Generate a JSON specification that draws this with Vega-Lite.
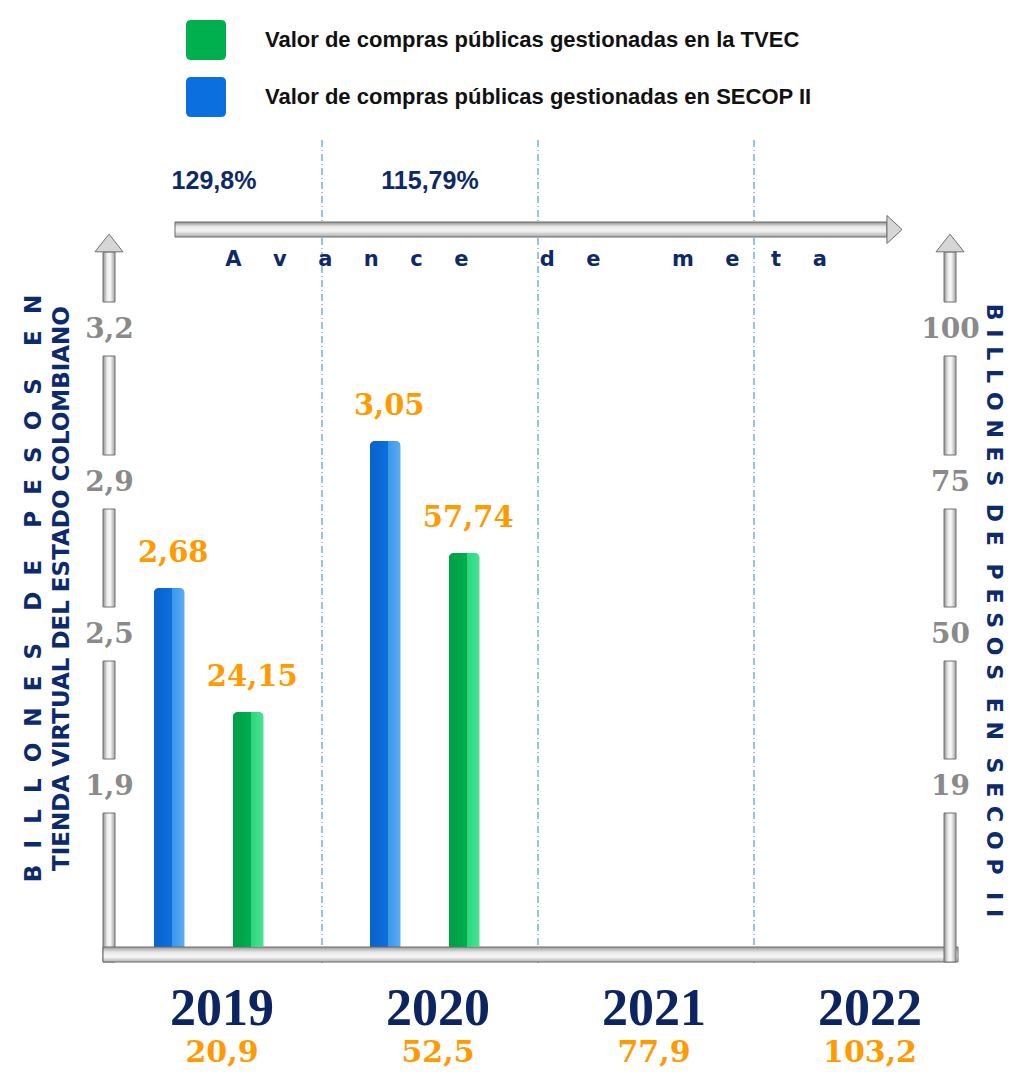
{
  "$schema": "https://vega.github.io/schema/vega-lite/v6.json",
  "width": 864,
  "height": 823,
  "autosize": {"type": "none"},
  "padding": {"left": 106, "top": 140, "right": 59, "bottom": 122},
  "background": "white",
  "config": {
    "locale": {"number": {"decimal": ",", "thousands": ".", "grouping": [3], "currency": ["$", ""]}},
    "view": {"stroke": null},
    "axisX": {"domain": false, "ticks": false, "tickSize": 0, "grid": false, "labelFont": "Liberation Serif", "labelFontSize": 52, "labelFontWeight": "bold", "labelColor": "#0c2461", "labelPadding": 61, "labelBaseline": "alphabetic", "labelOffset": 8, "labelAngle": 0}
  },
  "datasets": {
    "bars": [
      {"year": 2019, "sistema": "SECOP II", "serie": "Valor de compras públicas gestionadas en SECOP II", "valor": 2.68},
      {"year": 2020, "sistema": "SECOP II", "serie": "Valor de compras públicas gestionadas en SECOP II", "valor": 3.05},
      {"year": 2019, "sistema": "TVEC", "serie": "Valor de compras públicas gestionadas en la TVEC", "valor": 24.15},
      {"year": 2020, "sistema": "TVEC", "serie": "Valor de compras públicas gestionadas en la TVEC", "valor": 57.74}
    ],
    "meta": [
      {"year": 2019, "meta": 20.9, "avance": 1.298},
      {"year": 2020, "meta": 52.5, "avance": 1.1579},
      {"year": 2021, "meta": 77.9},
      {"year": 2022, "meta": 103.2}
    ],
    "segL": [{"lo": 0, "hi": 1.9}, {"lo": 1.9, "hi": 2.5}, {"lo": 2.5, "hi": 2.9}, {"lo": 2.9, "hi": 3.2}],
    "segR": [{"lo": 0, "hi": 19}, {"lo": 19, "hi": 50}, {"lo": 50, "hi": 75}, {"lo": 75, "hi": 100}]
  },
  "layer": [
    {
      "data": {"name": "meta"},
      "transform": [{"filter": "datum.year > 2019"}],
      "mark": {"type": "rule", "color": "#2f86d6", "strokeWidth": 1, "strokeDash": [7, 3, 1, 3]},
      "encoding": {
        "x": {"field": "year", "type": "ordinal", "bandPosition": 0, "title": null, "scale": {"type": "band", "domain": [2019, 2020, 2021, 2022], "paddingInner": 0, "paddingOuter": 0}}
      }
    },
    {
      "layer": [
        {
          "data": {"name": "bars"},
          "transform": [{"filter": "datum.sistema == 'SECOP II'"}],
          "mark": {"type": "bar", "cornerRadiusTopLeft": 5, "cornerRadiusTopRight": 5},
          "encoding": {
            "x": {"field": "year", "type": "ordinal", "title": null},
            "xOffset": {"field": "serie", "type": "nominal", "scale": {"type": "band", "domain": ["Valor de compras públicas gestionadas en SECOP II", "Valor de compras públicas gestionadas en la TVEC"], "paddingInner": 0.61, "paddingOuter": 0.672, "align": 0.45}},
            "y": {"field": "valor", "type": "quantitative", "scale": {"domain": [0, 1.9, 2.5, 2.68, 2.9, 3.05, 3.2], "range": [807, 646, 494, 448, 342, 301, 189], "nice": false},
              "axis": {"orient": "left", "offset": -3, "values": [1.9, 2.5, 2.9, 3.2], "format": ".1f", "domain": false, "ticks": false, "tickSize": 0, "grid": false, "labelAlign": "center", "labelBaseline": "middle", "labelPadding": 0, "labelFont": "DejaVu Serif", "labelFontSize": 28, "labelFontWeight": "bold", "labelColor": "#8a8a8a", "labelOverlap": false,
                "title": ["B\u2002\u2009I\u2002\u2009L\u2002\u2009L\u2002\u2009O\u2002\u2009N\u2002\u2009E\u2002\u2009S\u2002\u2009\u2002\u2009D\u2002\u2009E\u2002\u2009\u2002\u2009P\u2002\u2009E\u2002\u2009S\u2002\u2009O\u2002\u2009S\u2002\u2009\u2002\u2009E\u2002\u2009N", "TIENDA VIRTUAL DEL ESTADO COLOMBIANO"],
                "titleFont": "DejaVu Sans", "titleFontSize": 23, "titleFontWeight": "bold", "titleColor": "#0d2a6b", "titleAngle": -90, "titleAlign": "center", "titleBaseline": "alphabetic", "titleX": -69, "titleY": 448, "titleLineHeight": 28, "titleLimit": 1000}},
            "color": {"field": "serie", "type": "nominal", "scale": {"domain": ["Valor de compras públicas gestionadas en la TVEC", "Valor de compras públicas gestionadas en SECOP II"], "range": ["#00b04f", "#0b6fe0"]},
              "legend": {"orient": "none", "legendX": 80, "legendY": -120, "title": null, "direction": "vertical", "symbolType": "M-1,-0.75Q-1,-1,-0.75,-1L0.75,-1Q1,-1,1,-0.75L1,0.75Q1,1,0.75,1L-0.75,1Q-1,1,-1,0.75Z", "symbolSize": 1600, "symbolStrokeWidth": 0, "symbolOpacity": 1, "labelFont": "Liberation Sans", "labelFontSize": 22, "labelFontWeight": "bold", "labelColor": "#111111", "labelLimit": 800, "labelOffset": 39, "rowPadding": 17, "padding": 0}}
          }
        },
        {
          "data": {"name": "bars"},
          "transform": [{"filter": "datum.sistema == 'SECOP II'"}],
          "mark": {"type": "bar", "cornerRadiusTopLeft": 5, "cornerRadiusTopRight": 5, "fill": {"gradient": "linear", "x1": 0, "y1": 0, "x2": 1, "y2": 0, "stops": [{"offset": 0, "color": "rgba(0,30,90,0.15)"}, {"offset": 0.55, "color": "rgba(0,0,0,0)"}, {"offset": 0.6, "color": "rgba(120,200,255,0.45)"}, {"offset": 1, "color": "rgba(140,215,255,0.6)"}]}},
          "encoding": {
            "x": {"field": "year", "type": "ordinal", "title": null},
            "xOffset": {"field": "serie", "type": "nominal"},
            "y": {"field": "valor", "type": "quantitative", "scale": {"domain": [0, 1.9, 2.5, 2.68, 2.9, 3.05, 3.2], "range": [807, 646, 494, 448, 342, 301, 189], "nice": false}}
          }
        },
        {
          "data": {"name": "bars"},
          "transform": [{"filter": "datum.sistema == 'SECOP II'"}],
          "mark": {"type": "text", "baseline": "bottom", "dy": -20, "dx": 4, "font": "DejaVu Serif", "fontSize": 29, "fontWeight": "bold", "color": "#ff9a00"},
          "encoding": {
            "x": {"field": "year", "type": "ordinal", "title": null},
            "xOffset": {"field": "serie", "type": "nominal"},
            "y": {"field": "valor", "type": "quantitative", "scale": {"domain": [0, 1.9, 2.5, 2.68, 2.9, 3.05, 3.2], "range": [807, 646, 494, 448, 342, 301, 189], "nice": false}},
            "text": {"field": "valor", "type": "quantitative", "format": ".2f"}
          }
        },
        {
          "data": {"name": "segL"},
          "mark": {"type": "rect", "fill": {"gradient": "linear", "x1": 0, "y1": 0, "x2": 1, "y2": 0, "stops": [{"offset": 0, "color": "#8f8f8f"}, {"offset": 0.35, "color": "#eeeeee"}, {"offset": 0.6, "color": "#f7f7f7"}, {"offset": 1, "color": "#a0a0a0"}]}, "stroke": "#707070", "strokeWidth": 1, "xOffset": -3, "x2Offset": 9, "yOffset": {"expr": "datum.lo == 0 ? 15 : -27"}, "y2Offset": 27},
          "encoding": {
            "x": {"datum": 2019, "type": "ordinal", "bandPosition": 0, "title": null},
            "x2": {"datum": 2019, "bandPosition": 0},
            "y": {"field": "lo", "type": "quantitative", "scale": {"domain": [0, 1.9, 2.5, 2.68, 2.9, 3.05, 3.2], "range": [807, 646, 494, 448, 342, 301, 189], "nice": false}},
            "y2": {"field": "hi"}
          }
        },
        {
          "data": {"name": "segL"},
          "transform": [{"aggregate": [{"op": "max", "field": "hi", "as": "top"}]}],
          "mark": {"type": "rect", "fill": {"gradient": "linear", "x1": 0, "y1": 0, "x2": 1, "y2": 0, "stops": [{"offset": 0, "color": "#8f8f8f"}, {"offset": 0.35, "color": "#eeeeee"}, {"offset": 0.6, "color": "#f7f7f7"}, {"offset": 1, "color": "#a0a0a0"}]}, "stroke": "#707070", "strokeWidth": 1, "xOffset": -3, "x2Offset": 9, "yOffset": -27, "y2Offset": -77},
          "encoding": {
            "x": {"datum": 2019, "type": "ordinal", "bandPosition": 0, "title": null},
            "x2": {"datum": 2019, "bandPosition": 0},
            "y": {"field": "top", "type": "quantitative", "scale": {"domain": [0, 1.9, 2.5, 2.68, 2.9, 3.05, 3.2], "range": [807, 646, 494, 448, 342, 301, 189], "nice": false}},
            "y2": {"field": "top"}
          }
        },
        {
          "data": {"name": "segL"},
          "transform": [{"aggregate": [{"op": "max", "field": "hi", "as": "top"}]}],
          "mark": {"type": "point", "shape": "M-1,0.63L0,-0.63L1,0.63Z", "size": 784, "filled": true, "fill": "#d6d6d6", "stroke": "#707070", "strokeWidth": 1, "opacity": 1, "xOffset": 3, "yOffset": -86},
          "encoding": {
            "x": {"datum": 2019, "type": "ordinal", "bandPosition": 0, "title": null},
            "y": {"field": "top", "type": "quantitative", "scale": {"domain": [0, 1.9, 2.5, 2.68, 2.9, 3.05, 3.2], "range": [807, 646, 494, 448, 342, 301, 189], "nice": false}}
          }
        },
        {
          "data": {"name": "segL"},
          "transform": [{"aggregate": [{"op": "min", "field": "lo", "as": "base"}]}],
          "mark": {"type": "rect", "fill": {"gradient": "linear", "x1": 0, "y1": 0, "x2": 0, "y2": 1, "stops": [{"offset": 0, "color": "#9a9a9a"}, {"offset": 0.35, "color": "#e8e8e8"}, {"offset": 0.65, "color": "#f7f7f7"}, {"offset": 1, "color": "#b0b0b0"}]}, "stroke": "#6b6b6b", "strokeWidth": 1, "xOffset": -3, "x2Offset": -12, "yOffset": 0, "y2Offset": 15},
          "encoding": {
            "x": {"datum": 2019, "type": "ordinal", "bandPosition": 0, "title": null},
            "x2": {"datum": 2022, "bandPosition": 1},
            "y": {"field": "base", "type": "quantitative", "scale": {"domain": [0, 1.9, 2.5, 2.68, 2.9, 3.05, 3.2], "range": [807, 646, 494, 448, 342, 301, 189], "nice": false}},
            "y2": {"field": "base"}
          }
        }
      ]
    },
    {
      "layer": [
        {
          "data": {"name": "bars"},
          "transform": [{"filter": "datum.sistema == 'TVEC'"}],
          "mark": {"type": "bar", "cornerRadiusTopLeft": 5, "cornerRadiusTopRight": 5},
          "encoding": {
            "x": {"field": "year", "type": "ordinal", "title": null},
            "xOffset": {"field": "serie", "type": "nominal"},
            "y": {"field": "valor", "type": "quantitative", "scale": {"domain": [0, 19, 24.15, 50, 57.74, 75, 100], "range": [807, 646, 572, 494, 413, 342, 189], "nice": false},
              "axis": {"orient": "right", "offset": -20, "values": [19, 50, 75, 100], "format": "d", "domain": false, "ticks": false, "tickSize": 0, "grid": false, "labelAlign": "center", "labelBaseline": "middle", "labelPadding": 0, "labelFont": "DejaVu Serif", "labelFontSize": 28, "labelFontWeight": "bold", "labelColor": "#8a8a8a", "labelOverlap": false,
                "title": "B\u2009\u2009I\u2009\u2009L\u2009\u2009L\u2009\u2009O\u2009\u2009N\u2009\u2009E\u2009\u2009S\u2009\u2009\u2009\u2009D\u2009\u2009E\u2009\u2009\u2009\u2009P\u2009\u2009E\u2009\u2009S\u2009\u2009O\u2009\u2009S\u2009\u2009\u2009\u2009E\u2009\u2009N\u2009\u2009\u2009\u2009S\u2009\u2009E\u2009\u2009C\u2009\u2009O\u2009\u2009P\u2009\u2009\u2009\u2009I\u2009\u2009I",
                "titleFont": "DejaVu Sans", "titleFontSize": 22, "titleFontWeight": "bold", "titleColor": "#0d2a6b", "titleAngle": 90, "titleAlign": "center", "titleBaseline": "alphabetic", "titleX": 36, "titleY": 470, "titleLimit": 1000}},
            "color": {"field": "serie", "type": "nominal",
              "legend": {"orient": "none", "legendX": 80, "legendY": -120, "title": null, "direction": "vertical", "symbolType": "M-1,-0.75Q-1,-1,-0.75,-1L0.75,-1Q1,-1,1,-0.75L1,0.75Q1,1,0.75,1L-0.75,1Q-1,1,-1,0.75Z", "symbolSize": 1600, "symbolStrokeWidth": 0, "symbolOpacity": 1, "labelFont": "Liberation Sans", "labelFontSize": 22, "labelFontWeight": "bold", "labelColor": "#111111", "labelLimit": 800, "labelOffset": 39, "rowPadding": 17, "padding": 0}}
          }
        },
        {
          "data": {"name": "bars"},
          "transform": [{"filter": "datum.sistema == 'TVEC'"}],
          "mark": {"type": "bar", "cornerRadiusTopLeft": 5, "cornerRadiusTopRight": 5, "fill": {"gradient": "linear", "x1": 0, "y1": 0, "x2": 1, "y2": 0, "stops": [{"offset": 0, "color": "rgba(0,60,20,0.15)"}, {"offset": 0.55, "color": "rgba(0,0,0,0)"}, {"offset": 0.6, "color": "rgba(90,255,170,0.5)"}, {"offset": 1, "color": "rgba(110,255,185,0.65)"}]}},
          "encoding": {
            "x": {"field": "year", "type": "ordinal", "title": null},
            "xOffset": {"field": "serie", "type": "nominal"},
            "y": {"field": "valor", "type": "quantitative", "scale": {"domain": [0, 19, 24.15, 50, 57.74, 75, 100], "range": [807, 646, 572, 494, 413, 342, 189], "nice": false}}
          }
        },
        {
          "data": {"name": "bars"},
          "transform": [{"filter": "datum.sistema == 'TVEC'"}],
          "mark": {"type": "text", "baseline": "bottom", "dy": -20, "dx": 4, "font": "DejaVu Serif", "fontSize": 29, "fontWeight": "bold", "color": "#ff9a00"},
          "encoding": {
            "x": {"field": "year", "type": "ordinal", "title": null},
            "xOffset": {"field": "serie", "type": "nominal"},
            "y": {"field": "valor", "type": "quantitative", "scale": {"domain": [0, 19, 24.15, 50, 57.74, 75, 100], "range": [807, 646, 572, 494, 413, 342, 189], "nice": false}},
            "text": {"field": "valor", "type": "quantitative", "format": ".2f"}
          }
        },
        {
          "data": {"name": "segR"},
          "mark": {"type": "rect", "fill": {"gradient": "linear", "x1": 0, "y1": 0, "x2": 1, "y2": 0, "stops": [{"offset": 0, "color": "#8f8f8f"}, {"offset": 0.35, "color": "#eeeeee"}, {"offset": 0.6, "color": "#f7f7f7"}, {"offset": 1, "color": "#a0a0a0"}]}, "stroke": "#707070", "strokeWidth": 1, "xOffset": -26, "x2Offset": -14, "yOffset": {"expr": "datum.lo == 0 ? 15 : -27"}, "y2Offset": 27},
          "encoding": {
            "x": {"datum": 2022, "type": "ordinal", "bandPosition": 1, "title": null},
            "x2": {"datum": 2022, "bandPosition": 1},
            "y": {"field": "lo", "type": "quantitative", "scale": {"domain": [0, 19, 24.15, 50, 57.74, 75, 100], "range": [807, 646, 572, 494, 413, 342, 189], "nice": false}},
            "y2": {"field": "hi"}
          }
        },
        {
          "data": {"name": "segR"},
          "transform": [{"aggregate": [{"op": "max", "field": "hi", "as": "top"}]}],
          "mark": {"type": "rect", "fill": {"gradient": "linear", "x1": 0, "y1": 0, "x2": 1, "y2": 0, "stops": [{"offset": 0, "color": "#8f8f8f"}, {"offset": 0.35, "color": "#eeeeee"}, {"offset": 0.6, "color": "#f7f7f7"}, {"offset": 1, "color": "#a0a0a0"}]}, "stroke": "#707070", "strokeWidth": 1, "xOffset": -26, "x2Offset": -14, "yOffset": -27, "y2Offset": -77},
          "encoding": {
            "x": {"datum": 2022, "type": "ordinal", "bandPosition": 1, "title": null},
            "x2": {"datum": 2022, "bandPosition": 1},
            "y": {"field": "top", "type": "quantitative", "scale": {"domain": [0, 19, 24.15, 50, 57.74, 75, 100], "range": [807, 646, 572, 494, 413, 342, 189], "nice": false}},
            "y2": {"field": "top"}
          }
        },
        {
          "data": {"name": "segR"},
          "transform": [{"aggregate": [{"op": "max", "field": "hi", "as": "top"}]}],
          "mark": {"type": "point", "shape": "M-1,0.63L0,-0.63L1,0.63Z", "size": 784, "filled": true, "fill": "#d6d6d6", "stroke": "#707070", "strokeWidth": 1, "opacity": 1, "xOffset": -20, "yOffset": -86},
          "encoding": {
            "x": {"datum": 2022, "type": "ordinal", "bandPosition": 1, "title": null},
            "y": {"field": "top", "type": "quantitative", "scale": {"domain": [0, 19, 24.15, 50, 57.74, 75, 100], "range": [807, 646, 572, 494, 413, 342, 189], "nice": false}}
          }
        }
      ]
    },
    {
      "data": {"name": "meta"},
      "transform": [{"filter": "isValid(datum.avance)"}],
      "mark": {"type": "text", "font": "Liberation Sans", "fontSize": 25, "fontWeight": "bold", "color": "#0e2a66", "baseline": "middle"},
      "encoding": {
        "x": {"field": "year", "type": "ordinal", "title": null},
        "y": {"datum": "Avance de meta", "type": "nominal", "scale": {"type": "point", "domain": ["Avance de meta"], "range": [41, 41]}, "axis": null},
        "text": {"field": "avance", "type": "quantitative", "format": "~%"}
      }
    },
    {
      "data": {"values": [{}]},
      "layer": [
        {
          "mark": {"type": "rect", "fill": {"gradient": "linear", "x1": 0, "y1": 0, "x2": 0, "y2": 1, "stops": [{"offset": 0, "color": "#8c8c8c"}, {"offset": 0.3, "color": "#e6e6e6"}, {"offset": 0.6, "color": "#f4f4f4"}, {"offset": 1, "color": "#a8a8a8"}]}, "stroke": "#6b6b6b", "strokeWidth": 1, "xOffset": 69, "x2Offset": 133, "yOffset": -7.5, "y2Offset": 7.5},
          "encoding": {
            "x": {"datum": 2019, "type": "ordinal", "bandPosition": 0, "title": null},
            "x2": {"datum": 2022, "bandPosition": 0},
            "y": {"datum": "Avance de meta", "type": "nominal", "scale": {"type": "point", "domain": ["Avance de meta"], "range": [89.5, 89.5]}, "axis": null},
            "y2": {"datum": "Avance de meta"}
          }
        },
        {
          "mark": {"type": "point", "shape": "M-0.54,-1L0.54,0L-0.54,1Z", "size": 784, "filled": true, "fill": "#d6d6d6", "stroke": "#6b6b6b", "strokeWidth": 1, "opacity": 1, "xOffset": 140.5},
          "encoding": {
            "x": {"datum": 2022, "type": "ordinal", "bandPosition": 0, "title": null},
            "y": {"datum": "Avance de meta", "type": "nominal", "axis": null}
          }
        }
      ]
    },
    {
      "data": {"values": [{}]},
      "mark": {"type": "text", "font": "DejaVu Sans", "fontSize": 21, "fontWeight": "bold", "color": "#0e2a66", "baseline": "alphabetic", "dx": -12},
      "encoding": {
        "y": {"datum": "Avance de meta", "type": "nominal", "scale": {"type": "point", "domain": ["Avance de meta"], "range": [126, 126]}, "axis": null},
        "text": {"value": "A\u2003\u2002v\u2003\u2002a\u2003\u2002n\u2003\u2002c\u2003\u2002e\u2003\u2003\u2003\u2009\u2009d\u2003\u2002e\u2003\u2003\u2003\u2009\u2009m\u2003\u2002e\u2003\u2002t\u2003\u2002a"}
      }
    },
    {
      "data": {"name": "meta"},
      "mark": {"type": "text", "font": "DejaVu Serif", "fontSize": 30, "fontWeight": "bold", "color": "#ff9a00", "baseline": "alphabetic", "dx": 8},
      "encoding": {
        "x": {"field": "year", "type": "ordinal", "title": null},
        "y": {"datum": "Meta", "type": "nominal", "scale": {"type": "point", "domain": ["Meta"], "range": [922, 922]}, "axis": null},
        "text": {"field": "meta", "type": "quantitative", "format": ".1f"}
      }
    }
  ],
  "resolve": {"scale": {"y": "independent"}}
}
